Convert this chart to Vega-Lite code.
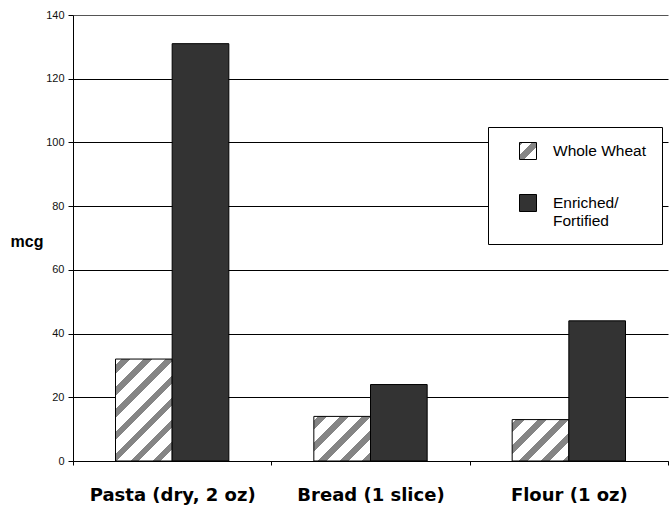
{
  "$schema": "https://vega.github.io/schema/vega-lite/v6.json",
  "width": 595,
  "height": 446,
  "autosize": {"type": "none"},
  "padding": {"top": 15, "left": 73, "right": 2, "bottom": 47},
  "background": "white",
  "config": {"view": {"stroke": null}},
  "data": {
    "values": [
      {"cat": "Pasta (dry, 2 oz)", "type": "Whole Wheat", "value": 32},
      {"cat": "Pasta (dry, 2 oz)", "type": "Enriched/Fortified", "value": 131},
      {"cat": "Bread (1 slice)", "type": "Whole Wheat", "value": 14},
      {"cat": "Bread (1 slice)", "type": "Enriched/Fortified", "value": 24},
      {"cat": "Flour (1 oz)", "type": "Whole Wheat", "value": 13},
      {"cat": "Flour (1 oz)", "type": "Enriched/Fortified", "value": 44}
    ]
  },
  "mark": {"type": "bar", "stroke": "#000000", "strokeWidth": 1},
  "encoding": {
    "x": {
      "field": "cat",
      "type": "nominal",
      "sort": ["Pasta (dry, 2 oz)", "Bread (1 slice)", "Flour (1 oz)"],
      "scale": {"paddingInner": 0, "paddingOuter": 0},
      "axis": {
        "title": null,
        "labelAngle": 0,
        "labelFont": "DejaVu Sans",
        "labelFontWeight": "bold",
        "labelFontSize": 18,
        "labelColor": "#000000",
        "labelPadding": 21,
        "tickBand": "extent",
        "tickSize": 4,
        "tickColor": "#000000",
        "domainColor": "#000000",
        "grid": false
      }
    },
    "xOffset": {
      "field": "type",
      "type": "nominal",
      "sort": ["Whole Wheat", "Enriched/Fortified"],
      "scale": {"paddingInner": 0, "paddingOuter": 0.75}
    },
    "y": {
      "field": "value",
      "type": "quantitative",
      "scale": {"domain": [0, 140], "nice": false},
      "axis": {
        "values": [0, 20, 40, 60, 80, 100, 120, 140],
        "grid": true,
        "gridColor": {"condition": {"test": "datum.value == 140", "value": "#555555"}, "value": "#000000"},
        "gridOpacity": 1,
        "domainColor": "#000000",
        "tickColor": "#000000",
        "tickSize": 5,
        "labelPadding": 4,
        "labelFont": "Liberation Sans",
        "labelFontSize": 11,
        "labelColor": "#111111",
        "title": "mcg",
        "titleAngle": 0,
        "titleFont": "Liberation Sans",
        "titleFontWeight": "bold",
        "titleFontSize": 16,
        "titleColor": "#000000",
        "titleAlign": "left",
        "titleBaseline": "alphabetic",
        "titleX": -63,
        "titleY": 231
      }
    },
    "fill": {
      "field": "type",
      "type": "nominal",
      "sort": ["Whole Wheat", "Enriched/Fortified"],
      "scale": {
        "range": [
          {"expr": "{gradient: 'linear', x1: 0, y1: 0, x2: 1, y2: 1, stops: [{offset: 0, color: '#858585'}, {offset: 0.1, color: '#858585'}, {offset: 0.1, color: '#ffffff'}, {offset: 0.37, color: '#ffffff'}, {offset: 0.37, color: '#858585'}, {offset: 0.63, color: '#858585'}, {offset: 0.63, color: '#ffffff'}, {offset: 1, color: '#ffffff'}]}"},
          "#333333"
        ]
      },
      "condition": [
        {
          "test": "datum.cat === 'Pasta (dry, 2 oz)' && datum.type === 'Whole Wheat'",
          "value": {
            "gradient": "linear", "x1": 0, "y1": 0, "x2": 0.661, "y2": 1.189,
            "stops": [
              {"offset": 0, "color": "#ffffff"}, {"offset": 0.04, "color": "#ffffff"},
              {"offset": 0.04, "color": "#858585"}, {"offset": 0.0956, "color": "#858585"},
              {"offset": 0.0956, "color": "#ffffff"}, {"offset": 0.1789, "color": "#ffffff"},
              {"offset": 0.1789, "color": "#858585"}, {"offset": 0.2345, "color": "#858585"},
              {"offset": 0.2345, "color": "#ffffff"}, {"offset": 0.3178, "color": "#ffffff"},
              {"offset": 0.3178, "color": "#858585"}, {"offset": 0.3734, "color": "#858585"},
              {"offset": 0.3734, "color": "#ffffff"}, {"offset": 0.4567, "color": "#ffffff"},
              {"offset": 0.4567, "color": "#858585"}, {"offset": 0.5123, "color": "#858585"},
              {"offset": 0.5123, "color": "#ffffff"}, {"offset": 0.5956, "color": "#ffffff"},
              {"offset": 0.5956, "color": "#858585"}, {"offset": 0.6512, "color": "#858585"},
              {"offset": 0.6512, "color": "#ffffff"}, {"offset": 0.7345, "color": "#ffffff"},
              {"offset": 0.7345, "color": "#858585"}, {"offset": 0.7901, "color": "#858585"},
              {"offset": 0.7901, "color": "#ffffff"}, {"offset": 0.8734, "color": "#ffffff"},
              {"offset": 0.8734, "color": "#858585"}, {"offset": 0.929, "color": "#858585"},
              {"offset": 0.929, "color": "#ffffff"}, {"offset": 1, "color": "#ffffff"}
            ]
          }
        },
        {
          "test": "datum.cat === 'Bread (1 slice)' && datum.type === 'Whole Wheat'",
          "value": {
            "gradient": "linear", "x1": 0, "y1": 0, "x2": 1.1036, "y2": 0.8686,
            "stops": [
              {"offset": 0, "color": "#ffffff"}, {"offset": 0.04, "color": "#ffffff"},
              {"offset": 0.04, "color": "#858585"}, {"offset": 0.127, "color": "#858585"},
              {"offset": 0.127, "color": "#ffffff"}, {"offset": 0.2574, "color": "#ffffff"},
              {"offset": 0.2574, "color": "#858585"}, {"offset": 0.3444, "color": "#858585"},
              {"offset": 0.3444, "color": "#ffffff"}, {"offset": 0.4748, "color": "#ffffff"},
              {"offset": 0.4748, "color": "#858585"}, {"offset": 0.5618, "color": "#858585"},
              {"offset": 0.5618, "color": "#ffffff"}, {"offset": 0.6922, "color": "#ffffff"},
              {"offset": 0.6922, "color": "#858585"}, {"offset": 0.7792, "color": "#858585"},
              {"offset": 0.7792, "color": "#ffffff"}, {"offset": 0.9096, "color": "#ffffff"},
              {"offset": 0.9096, "color": "#858585"}, {"offset": 0.9966, "color": "#858585"},
              {"offset": 0.9966, "color": "#ffffff"}, {"offset": 1, "color": "#ffffff"}
            ]
          }
        },
        {
          "test": "datum.cat === 'Flour (1 oz)' && datum.type === 'Whole Wheat'",
          "value": {
            "gradient": "linear", "x1": 0, "y1": 0, "x2": 1.1285, "y2": 0.8244,
            "stops": [
              {"offset": 0, "color": "#ffffff"}, {"offset": 0.04, "color": "#ffffff"},
              {"offset": 0.04, "color": "#858585"}, {"offset": 0.1297, "color": "#858585"},
              {"offset": 0.1297, "color": "#ffffff"}, {"offset": 0.2642, "color": "#ffffff"},
              {"offset": 0.2642, "color": "#858585"}, {"offset": 0.3539, "color": "#858585"},
              {"offset": 0.3539, "color": "#ffffff"}, {"offset": 0.4884, "color": "#ffffff"},
              {"offset": 0.4884, "color": "#858585"}, {"offset": 0.5781, "color": "#858585"},
              {"offset": 0.5781, "color": "#ffffff"}, {"offset": 0.7126, "color": "#ffffff"},
              {"offset": 0.7126, "color": "#858585"}, {"offset": 0.8023, "color": "#858585"},
              {"offset": 0.8023, "color": "#ffffff"}, {"offset": 0.9368, "color": "#ffffff"},
              {"offset": 0.9368, "color": "#858585"}, {"offset": 1, "color": "#858585"}
            ]
          }
        }
      ],
      "legend": {
        "title": null,
        "orient": "none",
        "legendX": 415,
        "legendY": 112,
        "fillColor": "#ffffff",
        "strokeColor": "#000000",
        "padding": 15,
        "symbolType": "square",
        "symbolSize": 289,
        "symbolOffset": 16,
        "symbolStrokeColor": "#000000",
        "symbolStrokeWidth": 1,
        "labelOffset": 16,
        "labelFont": "Liberation Sans",
        "labelFontSize": 15.5,
        "labelColor": "#000000",
        "labelLineHeight": 20,
        "labelLimit": 200,
        "rowPadding": 30,
        "labelExpr": "datum.label == 'Enriched/Fortified' ? ['Enriched/', 'Fortified'] : datum.label"
      }
    }
  }
}
